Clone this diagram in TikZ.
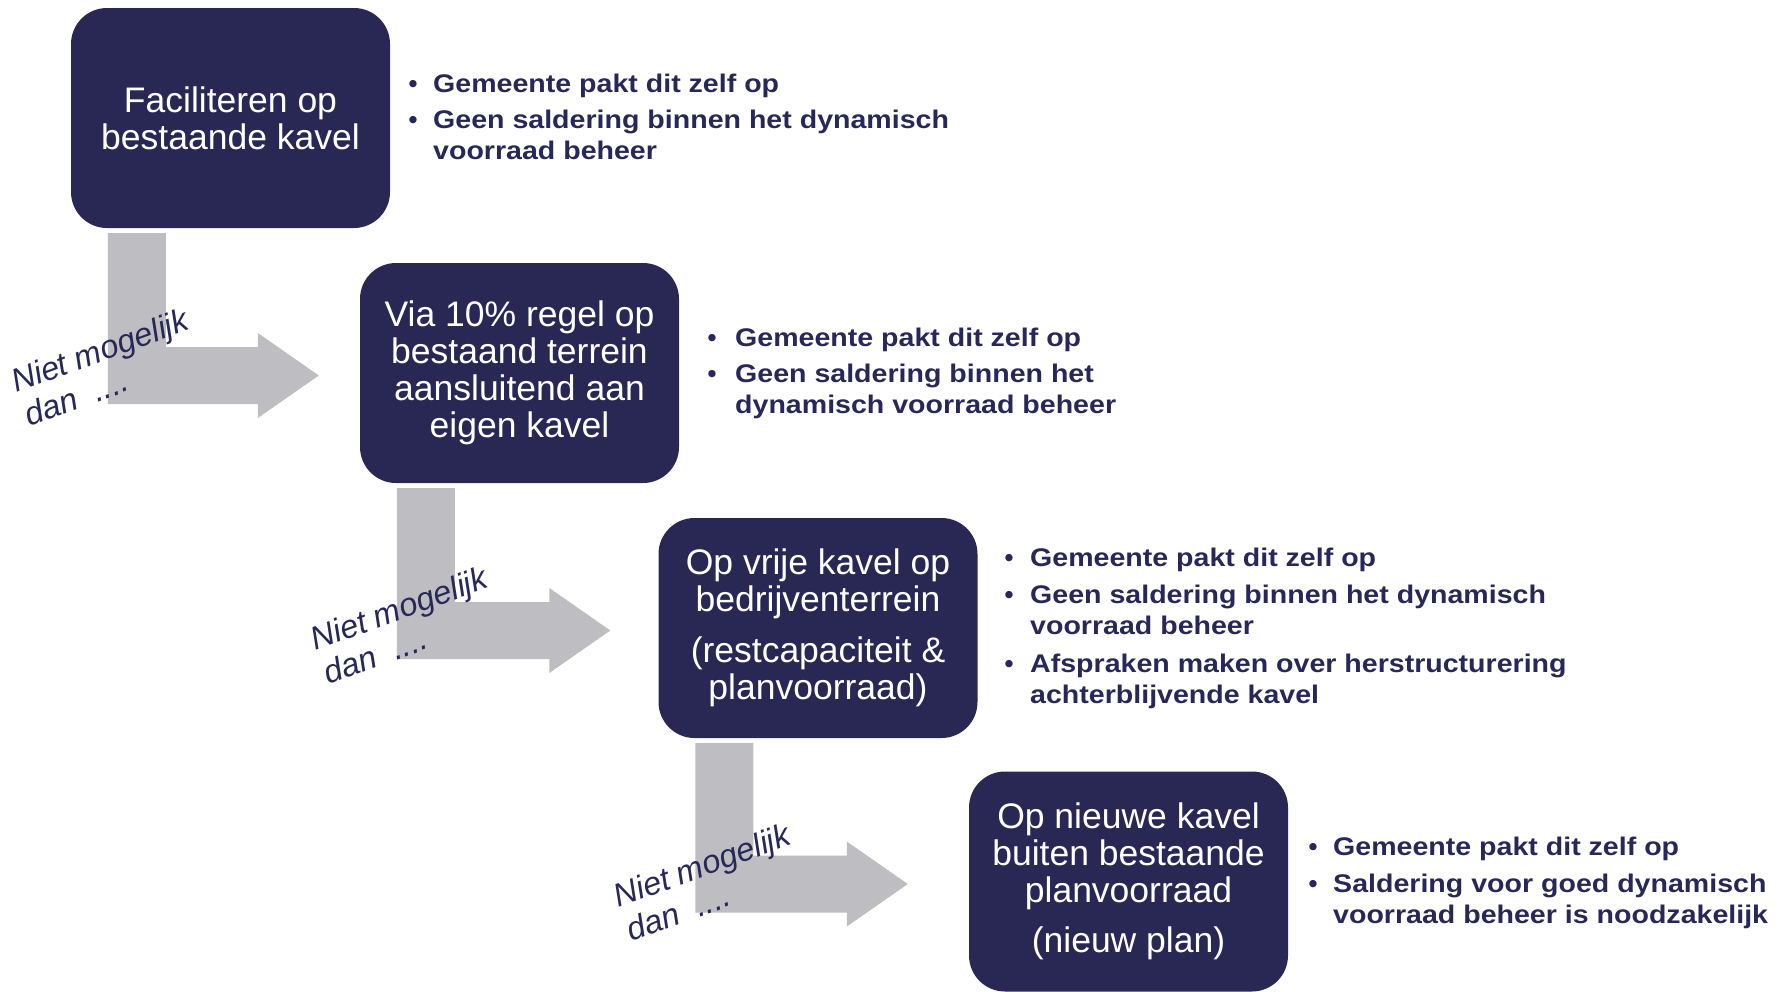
\documentclass[tikz,border=0pt]{standalone}
\usepackage{fontspec}
\setmainfont{Liberation Sans}
\newfontfamily\bulletfont[FakeStretch=1.12]{Liberation Sans}
\usetikzlibrary{calc}
\definecolor{navy}{RGB}{41,40,84}
\definecolor{arrowgrey}{RGB}{189,189,194}
\definecolor{txtnavy}{RGB}{40,40,88}
\tikzset{
 stepbox/.style={fill=navy, rounded corners=36pt, minimum width=319pt, minimum height=220pt,
   inner sep=0pt, text=white, align=center, font=\fontsize{35.5}{37}\selectfont},
 btxt/.style={anchor=base west, inner sep=0pt, text=txtnavy, font=\bulletfont\bfseries\fontsize{25.5}{31}\selectfont},
 bdot/.style={anchor=base, inner sep=0pt, text=txtnavy, font=\bfseries\fontsize{25.5}{31}\selectfont},
 lbl/.style={anchor=base west, inner sep=0pt, rotate=20, text=txtnavy, font=\itshape\fontsize{32.5}{35}\selectfont},
 garrow/.style={fill=arrowgrey, draw=none}
}
% #1 source box, #2 target box, #3 distance of head base left of target
\newcommand\grarrow[3]{%
 \fill[garrow] let \p1=(#1.south west), \p2=(#2.west) in
  (\x1+37pt,\y1-5pt) -- (\x1+95pt,\y1-5pt) -- (\x1+95pt,\y2+26pt)
  -- (\x2-#3pt,\y2+26pt) -- (\x2-#3pt,\y2+40pt) -- (\x2-#3pt+61pt,\y2-2.5pt)
  -- (\x2-#3pt,\y2-45pt) -- (\x2-#3pt,\y2-31pt) -- (\x1+37pt,\y2-31pt) -- cycle;}
\begin{document}
\begin{tikzpicture}[x=1pt,y=-1pt]
\useasboundingbox (0,0) rectangle (1787,991);
% boxes
\node[stepbox] (b1) at (230.5,118) {Faciliteren op\\bestaande kavel};
\node[stepbox] (b2) at (519.5,373) {\raisebox{0pt}{}Via 10\% regel op\\bestaand terrein\\aansluitend aan\\eigen kavel};
\node[stepbox] (b3) at (818,628) {Op vrije kavel op\\bedrijventerrein\\[14pt](restcapaciteit \&\\planvoorraad)};
\node[stepbox] (b4) at (1128.5,881.5) {Op nieuwe kavel\\buiten bestaande\\planvoorraad\\[13pt](nieuw plan)};
% block arrows
\grarrow{b1}{b2}{102}
\grarrow{b2}{b3}{109}
\grarrow{b3}{b4}{122}
% labels
\node[lbl] (l1a) at (16,393) {Niet mogelijk};
\node[lbl] (l1b) at (29,427) {dan\ \ ....};
\node[lbl] (l2a) at (315,651) {Niet mogelijk};
\node[lbl] (l2b) at (328,685) {dan\ \ ....};
\node[lbl] (l3a) at (618,908) {Niet mogelijk};
\node[lbl] (l3b) at (631,942) {dan\ \ ....};
% bullets box 1
\node[bdot] (d11) at (413,92) {•};
\node[btxt] (t11) at (433,92) {Gemeente pakt dit zelf op};
\node[bdot] (d12) at (413,128) {•};
\node[btxt] (t12) at (433,128) {Geen saldering binnen het dynamisch};
\node[btxt] (t13) at (433,159) {voorraad beheer};
% bullets box 2
\node[bdot] (d21) at (712,346) {•};
\node[btxt] (t21) at (735,346) {Gemeente pakt dit zelf op};
\node[bdot] (d22) at (712,382) {•};
\node[btxt] (t22) at (735,382) {Geen saldering binnen het};
\node[btxt] (t23) at (735,413) {dynamisch voorraad beheer};
% bullets box 3
\node[bdot] (d31) at (1009,566) {•};
\node[btxt] (t31) at (1030,566) {Gemeente pakt dit zelf op};
\node[bdot] (d32) at (1009,603) {•};
\node[btxt] (t32) at (1030,603) {Geen saldering binnen het dynamisch};
\node[btxt] (t33) at (1030,634) {voorraad beheer};
\node[bdot] (d34) at (1009,672) {•};
\node[btxt] (t34) at (1030,672) {Afspraken maken over herstructurering};
\node[btxt] (t35) at (1030,703) {achterblijvende kavel};
% bullets box 4
\node[bdot] (d41) at (1313,855) {•};
\node[btxt] (t41) at (1333,855) {Gemeente pakt dit zelf op};
\node[bdot] (d42) at (1313,892) {•};
\node[btxt] (t42) at (1333,892) {Saldering voor goed dynamisch};
\node[btxt] (t43) at (1333,923) {voorraad beheer is noodzakelijk};
\end{tikzpicture}
\end{document}
